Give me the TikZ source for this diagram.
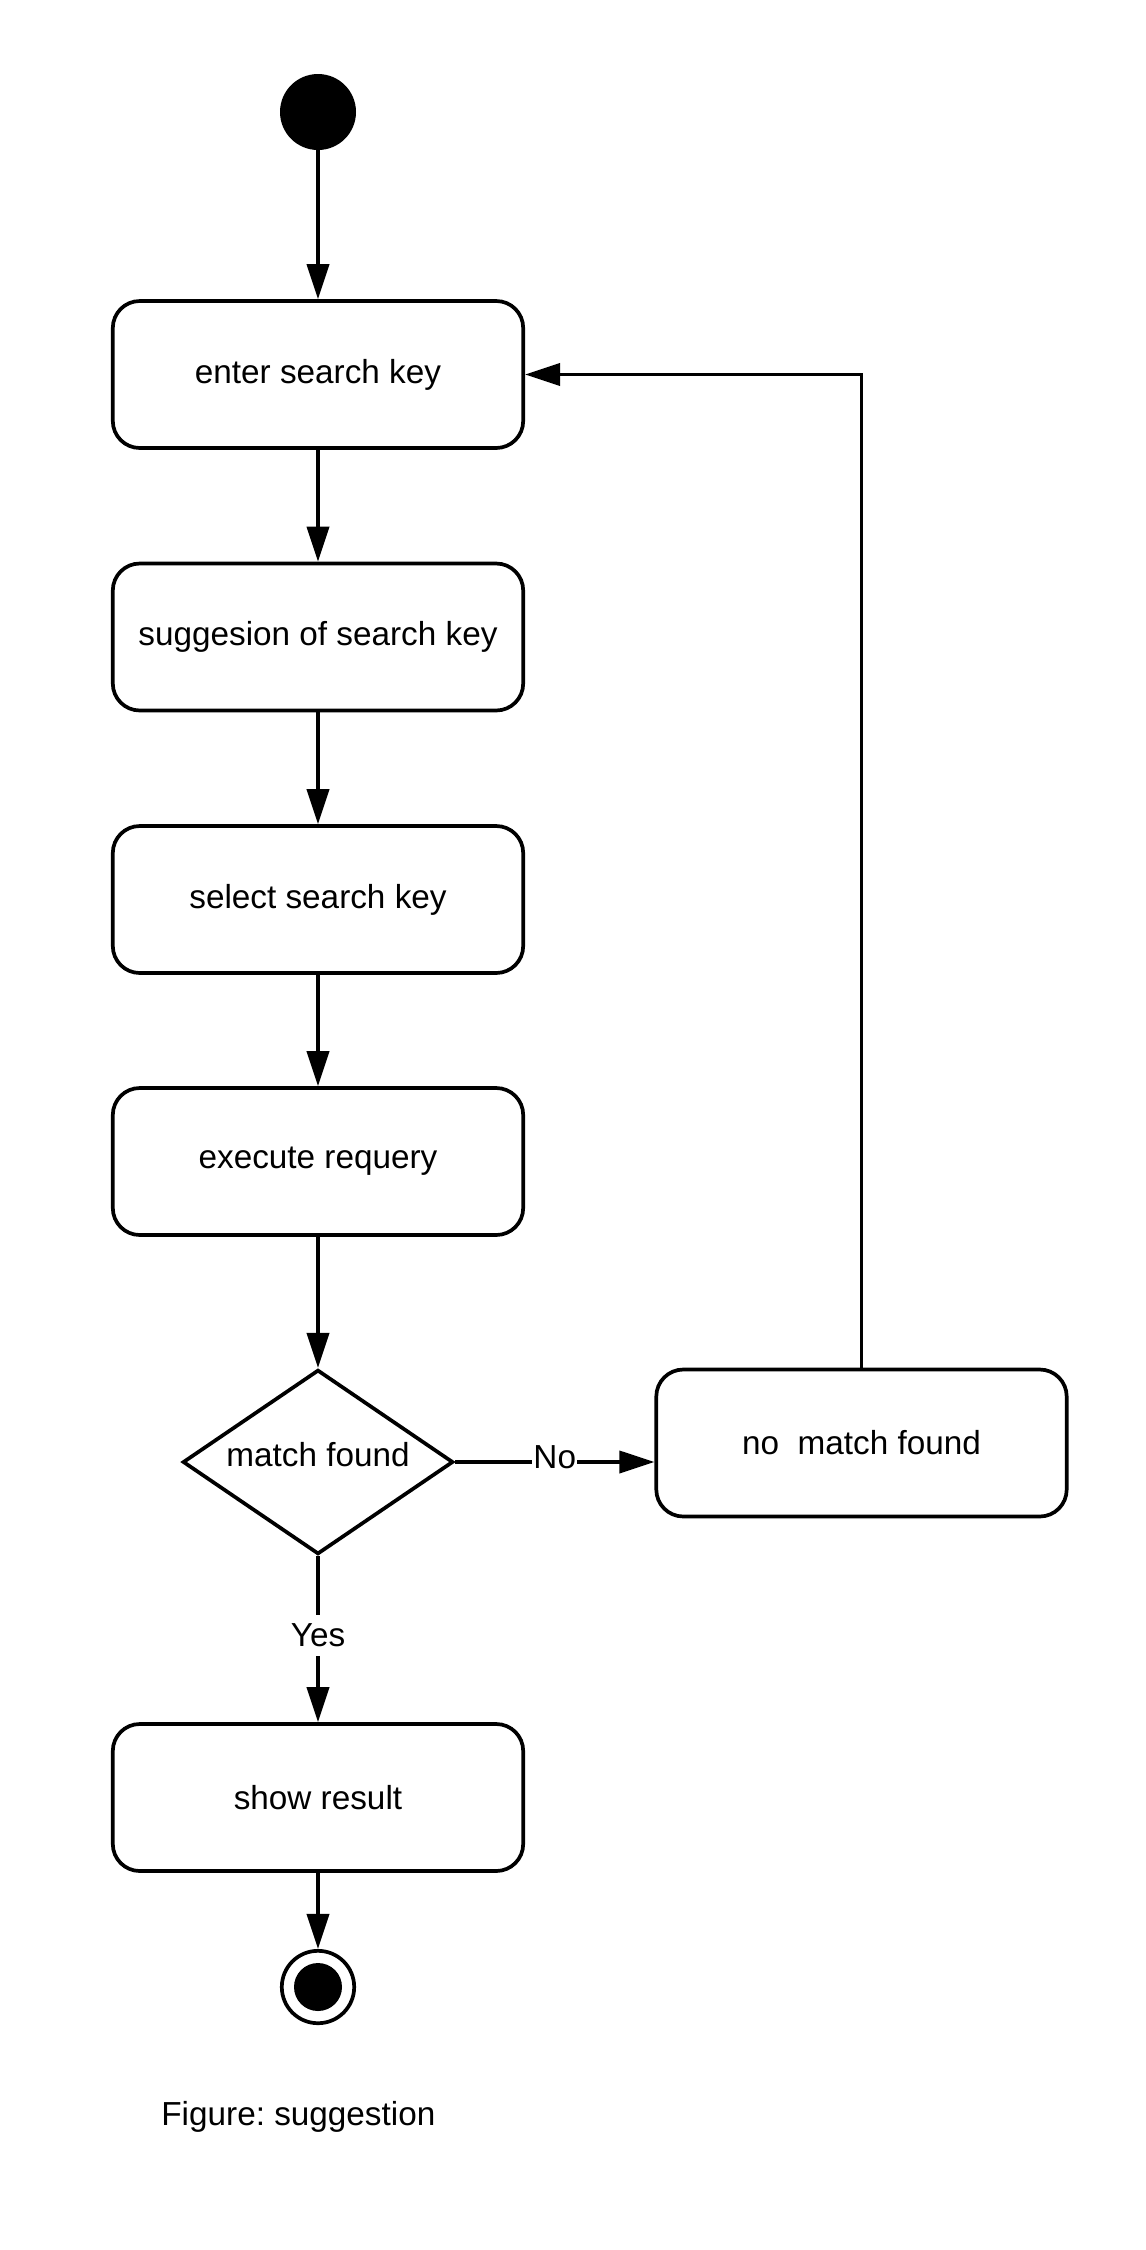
\documentclass[tikz,border=0pt]{standalone}
\usepackage{fontspec}
\setmainfont{Liberation Sans}
\usetikzlibrary{shapes.geometric,arrows.meta}
\frenchspacing
\begin{document}
\begin{tikzpicture}[x=0.5pt,y=-0.5pt,
  every node/.style={font=\fontsize{16.65pt}{20pt}\selectfont},
  actbox/.style={draw, line width=1.85pt, rounded corners=13.5pt, rectangle,
    minimum width=205.2pt, minimum height=73.5pt, inner sep=0pt},
  decis/.style={draw, line width=1.85pt, diamond, aspect=1.46, inner sep=0pt,
    minimum width=135.2pt, minimum height=92.2pt, text height=0.72em, text depth=0.24em},
  startdot/.style={circle, fill=black, minimum size=38pt, inner sep=0pt},
  enddot/.style={circle, draw, line width=1.85pt, minimum size=36.2pt, inner sep=0pt},
  arr/.style={line width=1.85pt, -{Triangle[length=17.5pt,width=11pt]}},
  lbl/.style={fill=white, inner xsep=0.5pt, inner ysep=4.5pt}
]
\path[use as bounding box] (0,0) rectangle (1146,2250);

\node[startdot] (start) at (318,112) {};
\node[actbox] (b1) at (318,374.5) {enter search key};
\node[actbox] (b2) at (318,637) {suggesion of search key};
\node[actbox] (b3) at (318,899.5) {select search key};
\node[actbox] (b4) at (318,1161.5) {execute requery};
\node[decis] (dia) at (318,1462) {match found};
\node[actbox] (nomatch) at (861.5,1443) {no\ \ match found};
\node[actbox] (show) at (318,1797.5) {show result};
\node[enddot] (end) at (318,1987) {};
\node[circle, fill=black, minimum size=24pt, inner sep=0pt] (enddisk) at (end.center) {};
\node[anchor=base west, inner sep=0pt] (cap) at (161,2125) {Figure: suggestion};

\draw[arr] (start) -- (b1);
\draw[arr] (b1) -- (b2);
\draw[arr] (b2) -- (b3);
\draw[arr] (b3) -- (b4);
\draw[arr] (b4) -- (dia);
\draw[arr] (dia.east) -- (dia.east -| nomatch.west)
  node[lbl, midway, yshift=2.5pt] (nolbl) {No};
\draw[arr] (dia.south) -- (show.north)
  node[lbl, midway, yshift=2pt] (yeslbl) {Yes};
\draw[arr] (show) -- (end);
\draw[arr] (nomatch.north) |- (b1.east);
\end{tikzpicture}
\end{document}
